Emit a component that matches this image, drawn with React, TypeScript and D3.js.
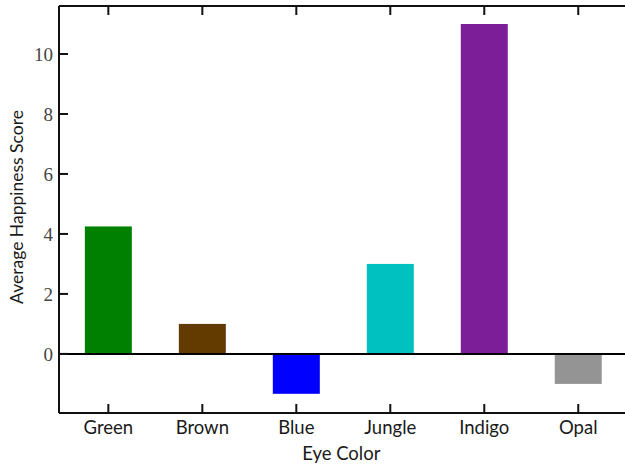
import React from "react";
import * as d3 from "d3";

const categories = ["Green", "Brown", "Blue", "Jungle", "Indigo", "Opal"];
const values = [4.25, 1.0, -1.33, 3.0, 11.0, -1.0];
const colors = ["#008000", "#633a00", "#0000ff", "#00c0c0", "#7b1e97", "#949494"];
const yTicks = [0, 2, 4, 6, 8, 10];

const W = 625;
const H = 466;
const left = 59;
const right = 627.6;
const top = 6;
const bottom = 413;

export default function App() {
  const x = d3.scalePoint<string>().domain(categories).range([left, right]).padding(0.525);
  const step = x.step();
  const barW = step * 0.5;
  const y = d3.scaleLinear().domain([-1.97, 11.6]).range([bottom, top]);
  const serif = "'Liberation Serif', 'DejaVu Serif', serif";
  const sans = "Lato, 'DejaVu Sans', sans-serif";

  return (
    <svg width={W} height={H} style={{ position: "absolute", left: 0, top: 0, background: "#fff" }}>
      {categories.map((c, i) => {
        const v = values[i];
        const y0 = y(0);
        const y1 = y(v);
        return (
          <rect
            key={c}
            x={(x(c) as number) - barW / 2}
            y={Math.min(y0, y1)}
            width={barW}
            height={Math.abs(y1 - y0)}
            fill={colors[i]}
          />
        );
      })}
      <line x1={left} x2={right} y1={y(0)} y2={y(0)} stroke="#000" strokeWidth={2} />
      {/* spines */}
      <line x1={left} x2={left} y1={top} y2={bottom} stroke="#111" strokeWidth={2} />
      <line x1={left} x2={right} y1={top} y2={top} stroke="#111" strokeWidth={2} />
      <line x1={left} x2={right} y1={bottom} y2={bottom} stroke="#111" strokeWidth={2} />
      <line x1={right} x2={right} y1={top} y2={bottom} stroke="#111" strokeWidth={2} />
      {/* x ticks */}
      {categories.map((c) => (
        <g key={"t" + c}>
          <line x1={x(c)} x2={x(c)} y1={bottom} y2={bottom - 9} stroke="#111" strokeWidth={2} />
          <line x1={x(c)} x2={x(c)} y1={top} y2={top + 9} stroke="#111" strokeWidth={2} />
          <text x={x(c)} y={433.5} textAnchor="middle" fontFamily={sans} fontSize={18.5} fill="#1a1a1a">
            {c}
          </text>
        </g>
      ))}
      {/* y ticks */}
      {yTicks.map((t) => (
        <g key={"y" + t}>
          <line x1={left} x2={left + 9} y1={y(t)} y2={y(t)} stroke="#111" strokeWidth={2} />
          <text x={53} y={y(t)} dy="0.35em" textAnchor="end" fontFamily={serif} fontSize={19} fill="#444">
            {t}
          </text>
        </g>
      ))}
      <text x={(left + right) / 2 - 2} y={460} textAnchor="middle" fontFamily={sans} fontSize={18.5} fill="#1a1a1a">
        Eye Color
      </text>
      <text
        transform={`translate(23,207) rotate(-90)`}
        textAnchor="middle"
        fontFamily={sans}
        fontSize={17.5}
        fill="#1a1a1a"
      >
        Average Happiness Score
      </text>
    </svg>
  );
}
